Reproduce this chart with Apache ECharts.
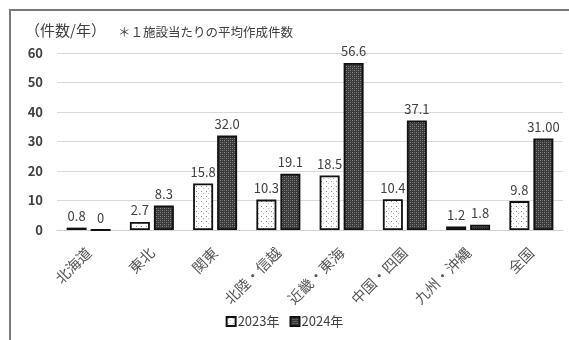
<!DOCTYPE html>
<html>
<head>
<meta charset="utf-8">
<script src="https://cdn.jsdelivr.net/npm/echarts@6/dist/echarts.min.js"></script>
<style>
  html, body { margin: 0; padding: 0; background: #fff; }
  #chart { width: 569px; height: 340px; }
</style>
</head>
<body>
<div id="chart"></div>
<script>
// Regions and average documents per facility
const regions = ['北海道', '東北', '関東', '北陸・信越', '近畿・東海', '中国・四国', '九州・沖縄', '全国'];
const values2023 = [0.8, 2.7, 15.8, 10.3, 18.5, 10.4, 1.2, 9.8];
const values2024 = [0, 8.3, 32.0, 19.1, 56.6, 37.1, 1.8, 31.00];
const labels2023 = ['0.8', '2.7', '15.8', '10.3', '18.5', '10.4', '1.2', '9.8'];
const labels2024 = ['0', '8.3', '32.0', '19.1', '56.6', '37.1', '1.8', '31.00'];
const seriesNames = ['2023年', '2024年'];
const yTicks = { min: 0, max: 60, interval: 10 };

const FONT = '"Noto Sans CJK JP", "Noto Sans", sans-serif';

// Light dotted fill for the first year
function dotPattern() {
  const c = document.createElement('canvas');
  c.width = 5; c.height = 5;
  const g = c.getContext('2d');
  g.fillStyle = '#ffffff';
  g.fillRect(0, 0, 5, 5);
  g.fillStyle = '#8a8a8a';
  g.fillRect(1, 1, 1, 1);
  g.fillStyle = '#bbbbbb';
  g.fillRect(3, 3, 1, 1);
  return c;
}

// Dense dark checkered fill for the second year
function darkPattern() {
  const c = document.createElement('canvas');
  c.width = 4; c.height = 4;
  const g = c.getContext('2d');
  g.fillStyle = '#3a3a3a';
  g.fillRect(0, 0, 4, 4);
  g.fillStyle = '#8a8a8a';
  g.fillRect(0, 0, 1, 1);
  g.fillRect(2, 2, 1, 1);
  g.fillStyle = '#666666';
  g.fillRect(2, 0, 1, 1);
  g.fillRect(0, 2, 1, 1);
  return c;
}

const chart = echarts.init(document.getElementById('chart'), null, { renderer: 'canvas' });

function barSeries(name, values, labels, pattern) {
  return {
    name: name,
    type: 'bar',
    data: values,
    barWidth: 20,
    barGap: '20%',
    itemStyle: {
      color: { image: pattern, repeat: 'repeat' },
      borderColor: '#111111',
      borderWidth: 1.8
    },
    label: {
      show: true,
      position: 'top',
      distance: 5,
      fontFamily: FONT,
      fontSize: 13,
      color: '#404040',
      formatter: p => labels[p.dataIndex]
    }
  };
}

chart.setOption({
  animation: false,
  backgroundColor: '#ffffff',
  textStyle: { fontFamily: FONT },
  graphic: [
    {
      type: 'rect',
      shape: { x: 10, y: 10, width: 620, height: 400 },
      style: { fill: 'none', stroke: '#7a7a7a', lineWidth: 2 },
      silent: true
    },
    {
      type: 'text',
      left: 25, top: 23,
      style: { text: '（件数/年）', font: '15px ' + FONT, fill: '#404040' }
    },
    {
      type: 'text',
      left: 118, top: 26,
      style: { text: '＊１施設当たりの平均作成件数', font: '12.5px ' + FONT, fill: '#404040' }
    }
  ],
  legend: {
    bottom: 7,
    left: 'center',
    itemWidth: 9,
    itemHeight: 9,
    itemGap: 10,
    icon: 'rect',
    textStyle: { fontFamily: FONT, fontSize: 13, color: '#404040', padding: [0, 0, 0, -3] },
    data: seriesNames
  },
  grid: { left: 57, right: 6, top: 53, bottom: 110, containLabel: false },
  xAxis: {
    type: 'category',
    data: regions,
    axisLine: { show: true, lineStyle: { color: '#d0d0d0', width: 1 } },
    axisTick: { show: false },
    axisLabel: {
      rotate: 45,
      interval: 0,
      margin: 20,
      fontFamily: FONT,
      fontSize: 14.5,
      color: '#555555'
    }
  },
  yAxis: {
    type: 'value',
    min: yTicks.min,
    max: yTicks.max,
    interval: yTicks.interval,
    axisLine: { show: false },
    axisTick: { show: false },
    splitLine: { lineStyle: { color: '#d9d9d9', width: 1 } },
    axisLabel: {
      margin: 14,
      fontFamily: FONT,
      fontSize: 13,
      fontWeight: 'bold',
      color: '#404040'
    }
  },
  series: [
    barSeries(seriesNames[0], values2023, labels2023, dotPattern()),
    barSeries(seriesNames[1], values2024, labels2024, darkPattern())
  ]
});
</script>
</body>
</html>
